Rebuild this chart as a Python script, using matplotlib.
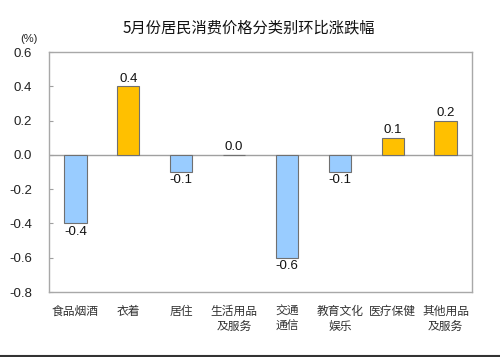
import matplotlib
matplotlib.use("Agg")
import matplotlib.pyplot as plt
from matplotlib.lines import Line2D

plt.rcParams['font.family'] = ['Noto Sans CJK SC', 'DejaVu Sans']

categories = ["食品烟酒", "衣着", "居住", "生活用品\n及服务", "交通\n通信", "教育文化\n娱乐", "医疗保健", "其他用品\n及服务"]
values = [-0.4, 0.4, -0.1, 0.0, -0.6, -0.1, 0.1, 0.2]
yticks = [0.6, 0.4, 0.2, 0.0, -0.2, -0.4, -0.6, -0.8]
title = "5月份居民消费价格分类别环比涨跌幅"

fig = plt.figure(figsize=(5.0, 3.57), dpi=100)
ax = fig.add_axes([0.098, 0.182, 0.846, 0.672])

colors = ["#FFC000" if v > 0 else "#99CCFF" for v in values]
x = list(range(len(categories)))
ax.bar(x, values, width=0.42, color=colors, edgecolor="#707070", linewidth=0.8, zorder=3)

for xi, v in zip(x, values):
    if v >= 0:
        ax.text(xi, v + 0.01, f"{v:.1f}", ha="center", va="bottom", fontsize=9.5,
                family=["Liberation Sans", "DejaVu Sans"], color="#111111")
    else:
        ax.text(xi, v - 0.012, f"{v:.1f}", ha="center", va="top", fontsize=9.5,
                family=["Liberation Sans", "DejaVu Sans"], color="#111111")

ax.axhline(0, color="#A0A0A0", linewidth=1.0, zorder=2)
ax.set_xlim(-0.5, len(categories) - 0.5)
ax.set_ylim(-0.8, 0.6)
ax.set_yticks(yticks)
ax.set_yticklabels([f"{t:.1f}" for t in yticks], family=["Liberation Sans", "DejaVu Sans"],
                   fontsize=9.5, color="#222222")
ax.set_xticks(x)
ax.set_xticklabels(categories, fontsize=8.5, color="#333333", linespacing=1.25, va="top")
ax.tick_params(axis="x", length=0, pad=9)
ax.tick_params(axis="y", length=3, direction="in", color="#A0A0A0", pad=12)
for s in ax.spines.values():
    s.set_color("#A8A8A8")
    s.set_linewidth(1.0)

fig.text(0.498, 0.921, title, ha="center", va="center", fontsize=11, color="#111111")
fig.text(0.057, 0.89, "(%)", ha="center", va="center", fontsize=8,
         family=["Liberation Sans", "DejaVu Sans"], color="#222222")

fig.add_artist(Line2D([0, 1], [0.003, 0.003], color="#333333", linewidth=1.5, transform=fig.transFigure))

fig.savefig("out.png", dpi=100)
